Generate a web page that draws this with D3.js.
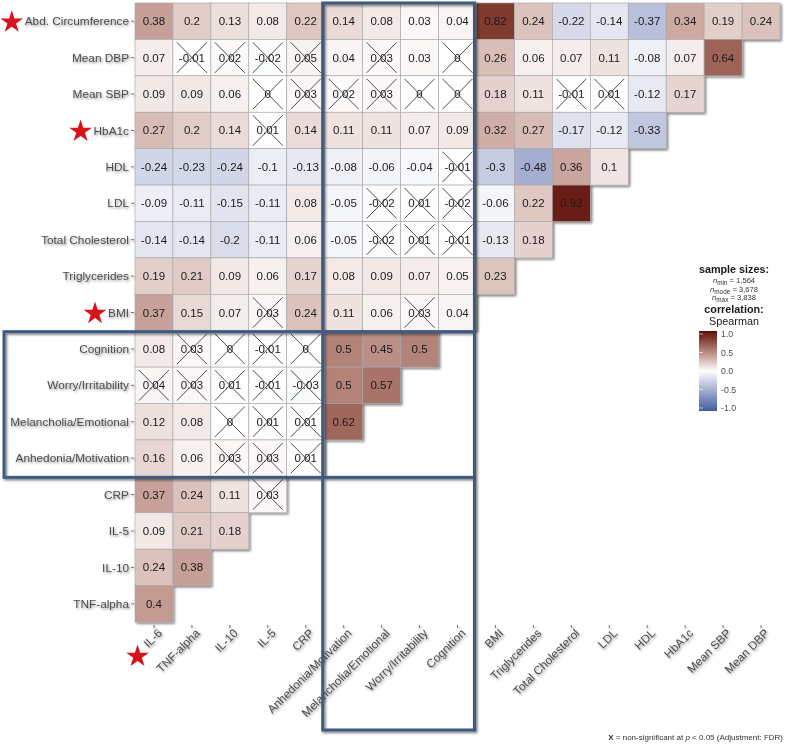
<!DOCTYPE html>
<html lang="en">
<head>
<meta charset="utf-8">
<title>Correlation matrix</title>
<script src="https://cdn.jsdelivr.net/npm/d3@7"></script>
<style>
body {
  margin: 0;
  background: #ffffff;
  font-family: "Liberation Sans", Arial, sans-serif;
}
.axis-label { font-size: 11.8px; fill: #4d4d4d; }
.cell-text { font-size: 11.5px; fill: #1a1a1a; }
.legend-title { font-size: 10.8px; font-weight: bold; fill: #1a1a1a; }
.legend-small { font-size: 7.6px; fill: #333; }
.legend-tick { font-size: 8.8px; fill: #4d4d4d; }
</style>
</head>
<body>
<svg width="790" height="748"></svg>
<script>

// variables in row order (top to bottom)
var rowVars = ["Abd. Circumference", "Mean DBP", "Mean SBP", "HbA1c", "HDL", "LDL",
  "Total Cholesterol", "Triglycerides", "BMI", "Cognition", "Worry/Irritability",
  "Melancholia/Emotional", "Anhedonia/Motivation", "CRP", "IL-5", "IL-10", "TNF-alpha"];

// variables in column order (left to right)
var colVars = ["IL-6", "TNF-alpha", "IL-10", "IL-5", "CRP", "Anhedonia/Motivation",
  "Melancholia/Emotional", "Worry/Irritability", "Cognition", "BMI", "Triglycerides",
  "Total Cholesterol", "LDL", "HDL", "HbA1c", "Mean SBP", "Mean DBP"];

// spearman correlations, one row per rowVars entry, starting at the IL-6 column
var corr = [
  [0.38, 0.2, 0.13, 0.08, 0.22, 0.14, 0.08, 0.03, 0.04, 0.82, 0.24, -0.22, -0.14, -0.37, 0.34, 0.19, 0.24],
  [0.07, -0.01, 0.02, -0.02, 0.05, 0.04, 0.03, 0.03, 0, 0.26, 0.06, 0.07, 0.11, -0.08, 0.07, 0.64],
  [0.09, 0.09, 0.06, 0, 0.03, 0.02, 0.03, 0, 0, 0.18, 0.11, -0.01, 0.01, -0.12, 0.17],
  [0.27, 0.2, 0.14, 0.01, 0.14, 0.11, 0.11, 0.07, 0.09, 0.32, 0.27, -0.17, -0.12, -0.33],
  [-0.24, -0.23, -0.24, -0.1, -0.13, -0.08, -0.06, -0.04, -0.01, -0.3, -0.48, 0.36, 0.1],
  [-0.09, -0.11, -0.15, -0.11, 0.08, -0.05, -0.02, 0.01, -0.02, -0.06, 0.22, 0.93],
  [-0.14, -0.14, -0.2, -0.11, 0.06, -0.05, -0.02, 0.01, -0.01, -0.13, 0.18],
  [0.19, 0.21, 0.09, 0.06, 0.17, 0.08, 0.09, 0.07, 0.05, 0.23],
  [0.37, 0.15, 0.07, 0.03, 0.24, 0.11, 0.06, 0.03, 0.04],
  [0.08, 0.03, 0, -0.01, 0, 0.5, 0.45, 0.5],
  [0.04, 0.03, 0.01, -0.01, -0.03, 0.5, 0.57],
  [0.12, 0.08, 0, 0.01, 0.01, 0.62],
  [0.16, 0.06, 0.03, 0.03, 0.01],
  [0.37, 0.24, 0.11, 0.03],
  [0.09, 0.21, 0.18],
  [0.24, 0.38],
  [0.4]
];

// column indexes of the non-significant cells (crossed) in each row
var nonSig = [
  [],
  [1, 2, 3, 4, 6, 8],
  [3, 4, 5, 6, 7, 8, 11, 12],
  [3],
  [8],
  [6, 7, 8],
  [6, 7, 8],
  [],
  [3, 7],
  [1, 2, 3, 4],
  [0, 1, 2, 3, 4],
  [2, 3, 4],
  [2, 3, 4],
  [3],
  [],
  [],
  []
];

var starredRows = ["Abd. Circumference", "HbA1c", "BMI"];
var starredCols = ["IL-6"];

// highlighted blocks: psychological columns and psychological rows
var colBlock = ["Anhedonia/Motivation", "Cognition"];
var rowBlock = ["Cognition", "Anhedonia/Motivation"];

var legendTicks = [1.0, 0.5, 0.0, -0.5, -1.0];
var sampleSizes = [["min", "1,564"], ["mode", "3,678"], ["max", "3,838"]];

var svg = d3.select("svg");

var defs = svg.append("defs");
var shadow = defs.append("filter").attr("id", "shadow")
    .attr("x", "-20%").attr("y", "-20%").attr("width", "140%").attr("height", "140%");
shadow.append("feDropShadow")
    .attr("dx", 1.6).attr("dy", 1.6).attr("stdDeviation", 1.1)
    .attr("flood-color", "#000").attr("flood-opacity", 0.5);

var tshadow = defs.append("filter").attr("id", "tshadow")
    .attr("x", "-10%").attr("y", "-30%").attr("width", "120%").attr("height", "170%");
tshadow.append("feDropShadow")
    .attr("dx", 1.2).attr("dy", 1.4).attr("stdDeviation", 1.0)
    .attr("flood-color", "#000").attr("flood-opacity", 0.45);

var x = d3.scaleBand().domain(colVars).range([135, 780]);
var y = d3.scaleBand().domain(rowVars).range([3, 622]);

var color = d3.scaleLinear()
    .domain([-1, 0, 1])
    .range(["#3d5f9e", "#ffffff", "#5e0b08"])
    .interpolate(d3.interpolateLab);

var cells = [];
corr.forEach(function(row, i) {
  row.forEach(function(v, j) {
    cells.push({row: rowVars[i], col: colVars[j], value: v, ns: nonSig[i].indexOf(j) > -1});
  });
});

var fmt = function(v) { return v === 0 ? "0" : String(v); };

// cells
var cellG = svg.append("g").attr("filter", "url(#shadow)");
var cell = cellG.selectAll("g.cell").data(cells).enter().append("g")
    .attr("class", "cell")
    .attr("transform", function(d) { return "translate(" + x(d.col) + "," + y(d.row) + ")"; });

cell.append("rect")
    .attr("width", x.bandwidth())
    .attr("height", y.bandwidth())
    .attr("fill", function(d) { return color(d.value); })
    .attr("stroke", "#a8a8a8")
    .attr("stroke-width", 0.6);

cell.append("text")
    .attr("class", "cell-text")
    .attr("x", x.bandwidth() / 2)
    .attr("y", y.bandwidth() / 2)
    .attr("dy", "0.35em")
    .attr("text-anchor", "middle")
    .text(function(d) { return fmt(d.value); });

var crossed = cell.filter(function(d) { return d.ns; });
crossed.append("line")
    .attr("x1", 4).attr("y1", 3)
    .attr("x2", x.bandwidth() - 4).attr("y2", y.bandwidth() - 3);
crossed.append("line")
    .attr("x1", x.bandwidth() - 4).attr("y1", 3)
    .attr("x2", 4).attr("y2", y.bandwidth() - 3);
crossed.selectAll("line").attr("stroke", "#222").attr("stroke-width", 0.8);

// y axis labels
var yLab = svg.append("g").attr("filter", "url(#tshadow)");
yLab.selectAll("line").data(rowVars).enter().append("line")
    .attr("x1", 131).attr("x2", 134)
    .attr("y1", function(d) { return y(d) + y.bandwidth() / 2; })
    .attr("y2", function(d) { return y(d) + y.bandwidth() / 2; })
    .attr("stroke", "#555").attr("stroke-width", 0.8);
var yText = yLab.selectAll("text").data(rowVars).enter().append("text")
    .attr("class", "axis-label")
    .attr("x", 129)
    .attr("y", function(d) { return y(d) + y.bandwidth() / 2; })
    .attr("dy", "0.35em")
    .attr("text-anchor", "end")
    .text(function(d) { return d; });

// x axis labels
var xLab = svg.append("g").attr("filter", "url(#tshadow)");
xLab.selectAll("line").data(colVars).enter().append("line")
    .attr("x1", function(d) { return x(d) + x.bandwidth() / 2; })
    .attr("x2", function(d) { return x(d) + x.bandwidth() / 2; })
    .attr("y1", 625).attr("y2", 628)
    .attr("stroke", "#555").attr("stroke-width", 0.8);
var xText = xLab.selectAll("text").data(colVars).enter().append("text")
    .attr("class", "axis-label")
    .attr("transform", function(d) {
      return "translate(" + (x(d) + x.bandwidth() / 2 + 3) + ",628) rotate(-45)";
    })
    .attr("dy", "0.7em")
    .attr("text-anchor", "end")
    .text(function(d) { return d; });

// red stars next to the flagged variables
var star = d3.symbol().type(d3.symbolStar).size(160);
yText.filter(function(d) { return starredRows.indexOf(d) > -1; }).each(function(d) {
  var w = this.getComputedTextLength();
  svg.append("path").attr("d", star)
      .attr("transform", "translate(" + (129 - w - 13) + "," + (y(d) + y.bandwidth() / 2 + 1) + ")")
      .attr("fill", "#d7141b");
});
xText.filter(function(d) { return starredCols.indexOf(d) > -1; }).each(function(d) {
  var w = (this.getComputedTextLength() + 10) * Math.SQRT1_2;
  svg.append("path").attr("d", star)
      .attr("transform", "translate(" + (x(d) + x.bandwidth() / 2 + 5 - w) + "," + (628 + w + 7) + ")")
      .attr("fill", "#d7141b");
});

// highlight boxes
var boxG = svg.append("g").attr("filter", "url(#shadow)");
var boxRight = x(colBlock[1]) + x.bandwidth() - 2;
boxG.append("rect")
    .attr("x", x(colBlock[0]) - 2)
    .attr("y", 3)
    .attr("width", boxRight - x(colBlock[0]) + 2)
    .attr("height", 727);
boxG.append("rect")
    .attr("x", 4)
    .attr("y", y(rowBlock[0]) + 1)
    .attr("width", boxRight - 4)
    .attr("height", y(rowBlock[1]) + y.bandwidth() - y(rowBlock[0]));
boxG.selectAll("rect")
    .attr("fill", "none")
    .attr("stroke", "#3c5a80")
    .attr("stroke-width", 3);

// legend
var lg = svg.append("g").attr("transform", "translate(734,0)");
lg.append("text").attr("class", "legend-title").attr("y", 273)
    .attr("text-anchor", "middle").text("sample sizes:");
sampleSizes.forEach(function(s, i) {
  var t = lg.append("text").attr("class", "legend-small")
      .attr("y", 283 + i * 8.7).attr("text-anchor", "middle");
  t.append("tspan").attr("font-style", "italic").text("n");
  t.append("tspan").attr("dy", 2).attr("font-size", "6.4px").text(s[0]);
  t.append("tspan").attr("dy", -2).text(" = " + s[1]);
});
lg.append("text").attr("class", "legend-title").attr("y", 313)
    .attr("text-anchor", "middle").text("correlation:");
lg.append("text").attr("y", 325).attr("text-anchor", "middle")
    .attr("font-size", "10.8px").attr("fill", "#1a1a1a").text("Spearman");

var grad = defs.append("linearGradient").attr("id", "corrGrad")
    .attr("x1", 0).attr("y1", 0).attr("x2", 0).attr("y2", 1);
d3.range(0, 1.0001, 0.05).forEach(function(t) {
  grad.append("stop").attr("offset", t).attr("stop-color", color(1 - 2 * t));
});

var ly = d3.scaleLinear().domain([1, -1]).range([334, 408]);
svg.append("rect")
    .attr("x", 699).attr("y", 331)
    .attr("width", 18).attr("height", 80)
    .attr("fill", "url(#corrGrad)");
svg.selectAll("line.ltick").data(legendTicks).enter().append("line")
    .attr("class", "ltick")
    .attr("x1", 699).attr("x2", 703)
    .attr("y1", function(d) { return ly(d); })
    .attr("y2", function(d) { return ly(d); })
    .attr("stroke", "#fff").attr("stroke-width", 0.6);
svg.selectAll("text.ltick").data(legendTicks).enter().append("text")
    .attr("class", "legend-tick")
    .attr("x", 721)
    .attr("y", function(d) { return ly(d); })
    .attr("dy", "0.35em")
    .text(function(d) { return d.toFixed(1); });

// caption
var cap = svg.append("text")
    .attr("x", 783).attr("y", 740)
    .attr("text-anchor", "end")
    .attr("font-size", "8px").attr("fill", "#333");
cap.append("tspan").attr("font-weight", "bold").text("X");
cap.append("tspan").text(" = non-significant at ");
cap.append("tspan").attr("font-style", "italic").text("p");
cap.append("tspan").text(" < 0.05 (Adjustment: FDR)");

</script>
</body>
</html>
